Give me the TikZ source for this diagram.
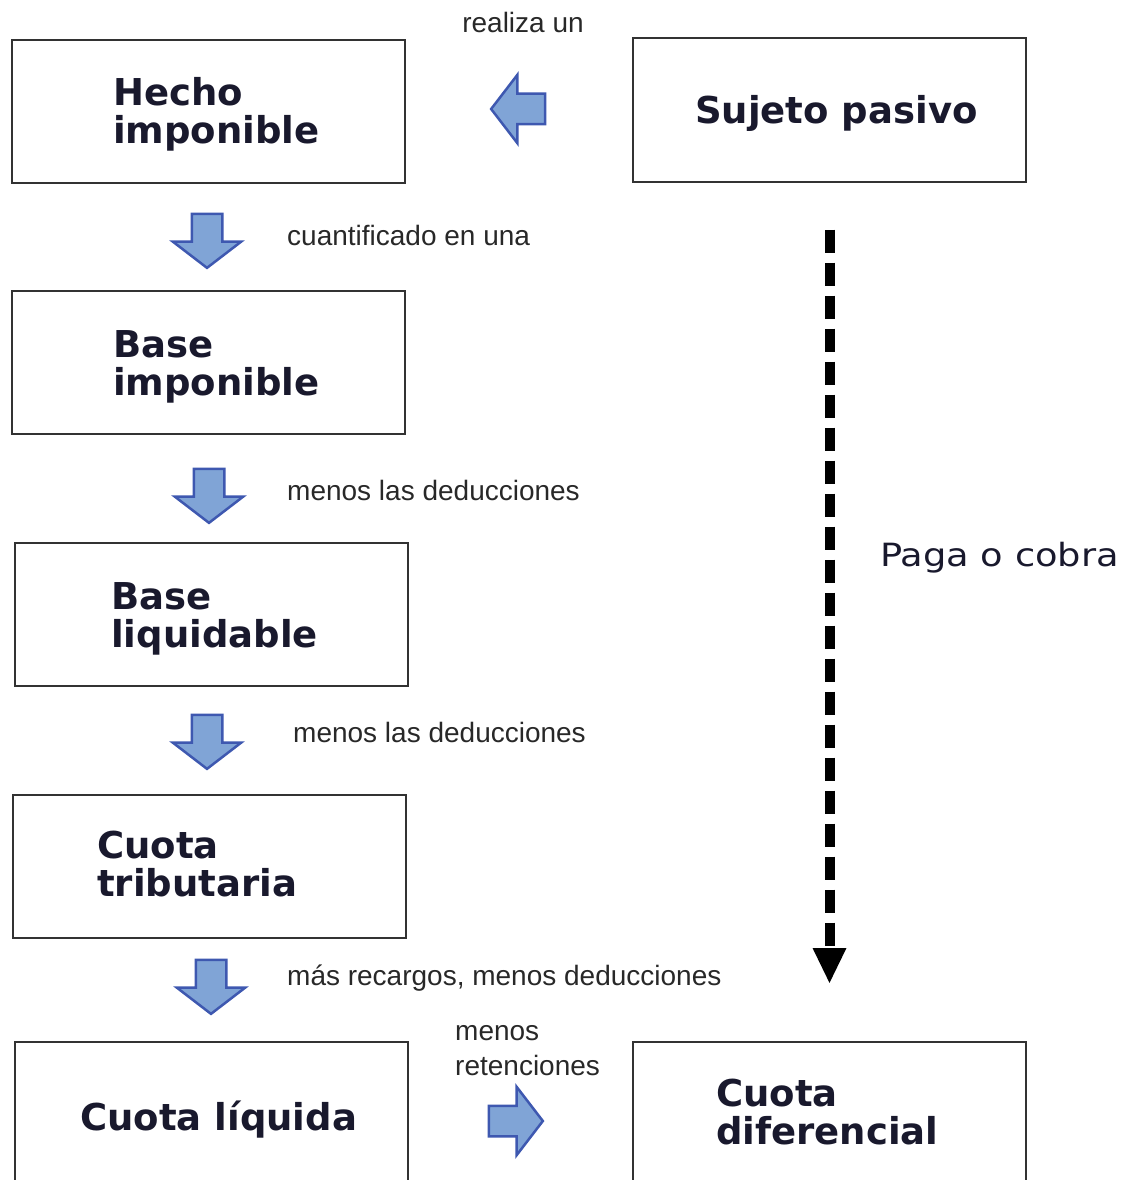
\documentclass[tikz,border=0pt]{standalone}
\usepackage{fontspec}
\setmainfont{DejaVu Sans}
\newfontfamily\etiqfont{Liberation Sans}
\newfontfamily\pagafont[FakeStretch=1.15]{DejaVu Sans}
\usetikzlibrary{arrows.meta}
\usetikzlibrary{shapes.arrows}
\definecolor{flechaborde}{RGB}{62,88,176}
\definecolor{flecharelleno}{RGB}{128,164,214}
\definecolor{textocaja}{RGB}{25,25,45}
\definecolor{textoetiq}{RGB}{40,40,40}
\definecolor{bordecaja}{RGB}{50,50,50}

\begin{document}
\begin{tikzpicture}[x=1pt,y=-1pt,
    caja/.style={draw=bordecaja, line width=2pt, minimum width=393pt, minimum height=143pt, inner sep=0pt},
    txtcaja/.style={anchor=west, align=left, inner sep=0pt, text=textocaja,
        font=\bfseries\fontsize{37}{38}\selectfont},
    etiq/.style={anchor=base west, align=left, inner sep=0pt, text=textoetiq,
        font=\etiqfont\fontsize{28}{35}\selectfont},
    flecha/.style={single arrow, draw=flechaborde, fill=flecharelleno, line width=2.5pt,
        inner sep=14pt, minimum height=54pt,
        single arrow head extend=19pt, single arrow tip angle=105}
    ]
\useasboundingbox (0,0) rectangle (1127,1180);

% cajas
\node[caja] (hecho) at (208.5,111.5) {};
\node[caja] (sujeto) at (829.5,110) {};
\node[caja] (baseimp) at (208.5,362) {};
\node[caja] (baseliq) at (211,614.5) {};
\node[caja] (cuotatrib) at (209.5,866.5) {};
\node[caja] (cuotaliq) at (211,1113.5) {};
\node[caja] (cuotadif) at (829.5,1113.5) {};

\node[txtcaja] (thecho) at (113,114.5) {Hecho\\imponible};
\node[txtcaja] (tsujeto) at (695,113) {Sujeto pasivo};
\node[txtcaja] (tbaseimp) at (113,366.5) {Base\\imponible};
\node[txtcaja] (tbaseliq) at (111,619) {Base\\liquidable};
\node[txtcaja] (tcuotatrib) at (97,864.5) {Cuota\\tributaria};
\node[txtcaja] (tcuotaliq) at (80,1120) {Cuota l\'iquida};
\node[txtcaja] (tcuotadif) at (716,1112) {Cuota\\diferencial};

% flechas de bloque
\node[flecha, shape border rotate=180] (f0) at (524,109) {};
\node[flecha, shape border rotate=270] (f1) at (207,235) {};
\node[flecha, shape border rotate=270] (f2) at (209,490) {};
\node[flecha, shape border rotate=270] (f3) at (207,736) {};
\node[flecha, shape border rotate=270] (f4) at (211,981) {};
\node[flecha] (f5) at (510,1121) {};

\node[etiq, anchor=base] (e0) at (523,33) {realiza un};
\node[etiq] (e1) at (287,245) {cuantificado en una};
\node[etiq] (e2) at (287,500) {menos las deducciones};
\node[etiq] (e3) at (293,742) {menos las deducciones};
\node[etiq] (e4) at (287,985) {m\'as recargos, menos deducciones};
\node[etiq] (e5) at (455,1075) {menos\\retenciones};

% paga o cobra
\draw[line width=10pt, dash pattern=on 23pt off 10pt, -{Triangle[width=31pt,length=36pt]}]
    ([yshift=-47pt]sujeto.south) -- ([yshift=57pt]cuotadif.north);
\node[anchor=west, inner sep=0pt, text=textocaja, font=\pagafont\fontsize{32}{34}\selectfont]
    (paga) at (880,558) {Paga o cobra};
\end{tikzpicture}
\end{document}
